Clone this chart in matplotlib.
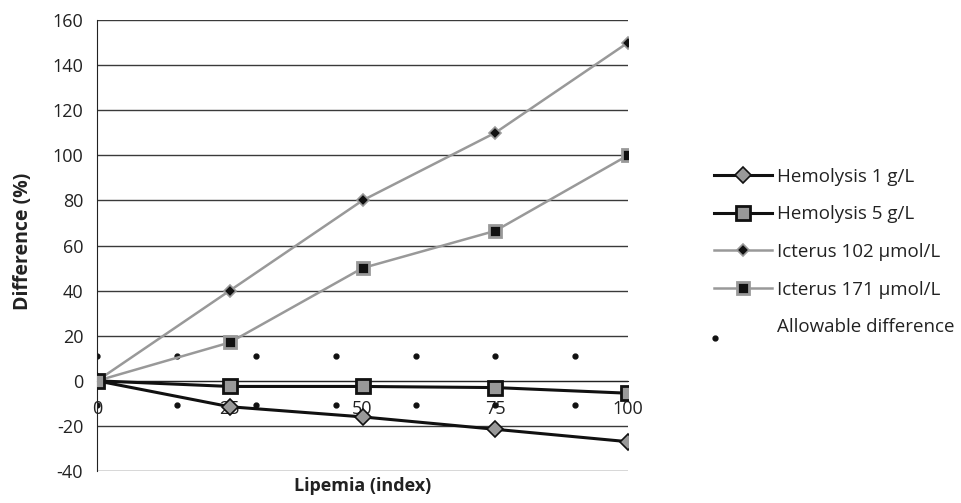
import matplotlib
matplotlib.use("Agg")
import matplotlib.pyplot as plt
from matplotlib.legend_handler import HandlerLine2D

plt.rcParams['font.family'] = ['Open Sans', 'DejaVu Sans']
plt.rcParams['axes.unicode_minus'] = False

lipemia = [0, 25, 50, 75, 100]
hemo1 = [0, -11.5, -16, -21.5, -27]
hemo5 = [0, -2.5, -2.5, -3, -5.5]
ict102 = [0, 40, 80, 110, 150]
ict171 = [0, 17, 50, 66.5, 100]

allow_x = [0, 15, 30, 45, 60, 75, 90]
allow_up = [11, 11, 11, 11, 11, 11, 11]
allow_lo = [-10.8, -10.8, -10.8, -10.8, -10.8, -10.8, -10.8]

yticks = [-40, -20, 0, 20, 40, 60, 80, 100, 120, 140, 160]
xticks = [0, 25, 50, 75, 100]

fig = plt.figure(figsize=(9.61, 5.03), dpi=100)
ax = fig.add_axes([0.101, 0.0636, 0.5525, 0.8966])

ax.set_xlim(0, 100)
ax.set_ylim(-40, 160)
ax.set_yticks(yticks)
ax.set_xticks(xticks)
ax.yaxis.grid(True, color='#3a3a3a', lw=1.0)
ax.set_axisbelow(True)
for s in ['top', 'right']:
    ax.spines[s].set_visible(False)
ax.spines['left'].set_color('#222222')
ax.spines['bottom'].set_position(('data', 0))
ax.spines['bottom'].set_color('#222222')
ax.tick_params(axis='both', length=0, labelsize=13, colors='#222222')
ax.tick_params(axis='y', pad=10)
ax.tick_params(axis='x', pad=14)

ax.plot(lipemia, hemo1, color='#111111', lw=2.2, marker='D', ms=8,
        mfc='#999999', mec='#111111', mew=1.2, label='Hemolysis 1 g/L', zorder=4)
ax.plot(lipemia, hemo5, color='#111111', lw=2.2, marker='s', ms=10,
        mfc='#999999', mec='#111111', mew=2, label='Hemolysis 5 g/L', zorder=4)
ax.plot(lipemia, ict102, color='#999999', lw=1.8, marker='D', ms=6,
        mfc='#111111', mec='#999999', mew=1.2, label='Icterus 102 µmol/L', zorder=3)
ax.plot(lipemia, ict171, color='#999999', lw=1.8, marker='s', ms=9,
        mfc='#111111', mec='#999999', mew=2, label='Icterus 171 µmol/L', zorder=3)
ax.plot(allow_x, allow_up, ls='none', marker='o', ms=3.5, color='#111111',
        label='Allowable difference', zorder=2)
ax.plot(allow_x, allow_lo, ls='none', marker='o', ms=3.5, color='#111111', zorder=2)

ax.set_ylabel('Difference (%)', fontsize=14, fontweight='bold', color='#222222')
ax.yaxis.set_label_coords(-0.12, 0.51)
ax.set_xlabel('Lipemia (index)', fontsize=13, fontweight='bold', color='#222222')
ax.xaxis.set_label_coords(0.5, -0.014)


class DotHandler(HandlerLine2D):
    def create_artists(self, legend, orig_handle, xdescent, ydescent,
                       width, height, fontsize, trans):
        arts = super().create_artists(legend, orig_handle, xdescent, ydescent,
                                      width, height, fontsize, trans)
        for a in arts:
            x, y = a.get_data()
            a.set_data([xx - width * 0.5 + 1 for xx in x],
                       [yy - height * 0.95 for yy in y])
        return arts


handles, labels = ax.get_legend_handles_labels()
leg = fig.legend(handles, labels, loc='center left', bbox_to_anchor=(0.725, 0.499),
                 frameon=False, fontsize=13.5, handlelength=3.1, handletextpad=0.3,
                 labelspacing=1.05, numpoints=1,
                 handler_map={handles[4]: DotHandler()})
for t in leg.get_texts():
    t.set_color('#222222')

fig.savefig('out.png', dpi=100)
